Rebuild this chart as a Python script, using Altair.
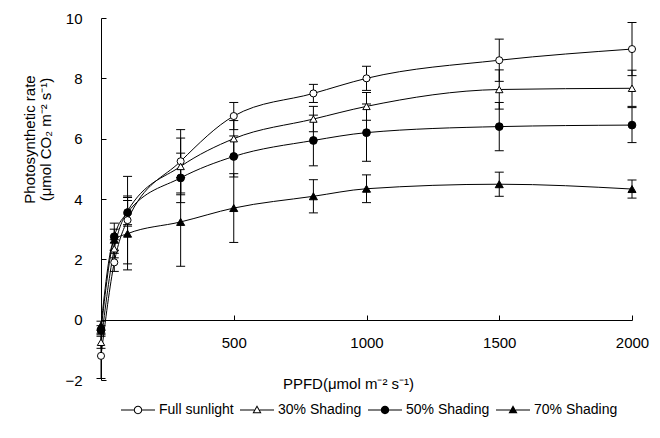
import altair as alt
import pandas as pd

# ---- data ----
ppfd = [0, 50, 100, 300, 500, 800, 1000, 1500, 2000]
series_names = ["Full sunlight", "30% Shading", "50% Shading", "70% Shading"]

full_sun = [-1.20, 1.90, 3.30, 5.25, 6.75, 7.50, 8.00, 8.60, 8.97]
full_sun_err = [0.75, 0.30, 1.45, 1.05, 0.45, 0.30, 0.40, 0.70, 0.88]

shade30 = [-0.75, 2.35, 3.60, 5.08, 6.00, 6.65, 7.07, 7.63, 7.67]
shade30_err = [0.20, 0.30, 0.50, 0.94, 0.60, 0.42, 0.46, 0.65, 0.60]

shade50 = [-0.35, 2.75, 3.55, 4.70, 5.41, 5.94, 6.20, 6.40, 6.45]
shade50_err = [0.15, 0.45, 0.40, 0.82, 0.68, 0.84, 0.95, 0.80, 0.58]

shade70 = [-0.20, 2.65, 2.85, 3.24, 3.70, 4.09, 4.34, 4.49, 4.33]
shade70_err = [0.15, 0.35, 1.20, 1.47, 1.14, 0.55, 0.46, 0.40, 0.30]

x_ticks = [500, 1000, 1500, 2000]
y_ticks = [-2, 0, 2, 4, 6, 8, 10]

rows = []
for name, vals, errs in zip(series_names,
                            [full_sun, shade30, shade50, shade70],
                            [full_sun_err, shade30_err, shade50_err, shade70_err]):
    for p, v, e in zip(ppfd, vals, errs):
        rows.append({"ppfd": p, "series": name, "val": v, "lo": v - e, "hi": v + e})
df = pd.DataFrame(rows)

FONT = "Liberation Sans"

# ---- legend symbols: line + marker as custom paths (unit = 17 px) ----
U = 17.0


def f(v):
    return f"{v / U:.4f}"


def rect(x0, x1, h=0.5):
    return f"M{f(x0)},{f(-h)}H{f(x1)}V{f(h)}H{f(x0)}Z"


def circ(r, sweep=1):
    return (f"M{f(-r)},0A{f(r)} {f(r)} 0 1 {sweep} {f(r)},0"
            f"A{f(r)} {f(r)} 0 1 {sweep} {f(-r)},0Z")


def tri(pts):
    (ax, ay), (bx, by), (cx, cy) = pts
    return f"M{f(ax)},{f(ay)}L{f(bx)},{f(by)}L{f(cx)},{f(cy)}Z"


open_circle = rect(-17, -4) + rect(4, 17) + circ(4.2, 1) + circ(3.2, 0)
filled_circle = rect(-17, -4) + rect(4, 17) + circ(4.2, 1)
outer_tri = [(0, -4.8), (4.5, 3.2), (-4.5, 3.2)]
inner_tri = [(0, -2.76), (-2.79, 2.2), (2.79, 2.2)]
open_triangle = rect(-17, -2.7) + rect(2.7, 17) + tri(outer_tri) + tri(inner_tri)
filled_triangle = rect(-17, -2.7) + rect(2.7, 17) + tri(outer_tri)
legend_paths = [open_circle, open_triangle, filled_circle, filled_triangle]

xscale = alt.Scale(domain=[0, 2000], nice=False, zero=False)
yscale = alt.Scale(domain=[-2, 10], nice=False, zero=False)

x_label_axis = alt.Axis(
    orient="bottom", offset=-60, values=x_ticks, ticks=False, tickSize=0, domain=False,
    grid=False, labelPadding=15, labelFont=FONT, labelFontSize=15, labelColor="black",
    labelFlush=False, labelOverlap=False, format="d",
    title="PPFD(μmol m⁻² s⁻¹)", titleFont=FONT, titleFontSize=15, titleFontWeight="normal",
    titleColor="black", titleX=247, titleY=63, titleAlign="center", titleBaseline="middle")

y_label_axis = alt.Axis(
    orient="left", values=y_ticks, ticks=False, tickSize=0, domain=False, grid=False,
    labelPadding=19, labelFont=FONT, labelFontSize=15, labelColor="black",
    labelFlush=False, labelOverlap=False, format="d",
    title=["Photosynthetic rate", "(μmol CO₂ m⁻² s⁻¹)"], titleFont=FONT, titleFontSize=15,
    titleFontWeight="normal", titleColor="black", titleAngle=270, titleX=-72, titleY=121,
    titleAlign="center", titleBaseline="middle", titleLineHeight=16)

x_tick_axis = alt.Axis(
    orient="top", offset=-302, values=x_ticks, tickSize=5, tickColor="black", tickWidth=1,
    labels=False, domain=True, domainColor="black", domainWidth=1, grid=False, title=None)

y_tick_axis = alt.Axis(
    orient="right", offset=-531, values=y_ticks, tickSize=5, tickColor="black", tickWidth=1,
    labels=False, domain=True, domainColor="black", domainWidth=1, grid=False, title=None)

base = alt.Chart(df)

lines = base.mark_line(interpolate="monotone", color="black", strokeWidth=1).encode(
    x=alt.X("ppfd:Q", scale=xscale, axis=x_label_axis),
    y=alt.Y("val:Q", scale=yscale, axis=y_label_axis),
    detail="series:N",
)

rules = base.mark_rule(color="black", strokeWidth=1).encode(
    x=alt.X("ppfd:Q", scale=xscale, axis=x_tick_axis),
    y=alt.Y("lo:Q", scale=yscale, axis=y_tick_axis),
    y2="hi:Q",
)

caps_lo = base.mark_tick(orient="horizontal", size=9, thickness=1, color="black", opacity=1).encode(
    x=alt.X("ppfd:Q", axis=None), y=alt.Y("lo:Q", axis=None))
caps_hi = base.mark_tick(orient="horizontal", size=9, thickness=1, color="black", opacity=1).encode(
    x=alt.X("ppfd:Q", axis=None), y=alt.Y("hi:Q", axis=None))

points = base.mark_point(filled=True, stroke="black", strokeWidth=1, opacity=1).encode(
    x=alt.X("ppfd:Q", axis=None),
    y=alt.Y("val:Q", axis=None),
    shape=alt.Shape("series:N", scale=alt.Scale(domain=series_names,
                    range=["circle", "triangle-up", "circle", "triangle-up"]), legend=None),
    fill=alt.Fill("series:N", scale=alt.Scale(domain=series_names,
                  range=["white", "white", "black", "black"]), legend=None),
    size=alt.Size("series:N", scale=alt.Scale(domain=series_names,
                  range=[50, 65, 50, 65]), legend=None),
)

legend_layer = base.transform_filter("datum.val > 1000").mark_point(
    filled=True, color="black", opacity=1, strokeWidth=0).encode(
    x=alt.X("ppfd:Q", axis=None),
    y=alt.Y("val:Q", axis=None),
    shape=alt.Shape("series:N", scale=alt.Scale(domain=series_names, range=legend_paths),
                    legend=alt.Legend(orient="none", legendX=20, legendY=375,
                                      direction="horizontal", title=None,
                                      symbolSize=1156, symbolStrokeWidth=0,
                                      symbolFillColor="black", symbolOpacity=1,
                                      labelFont=FONT, labelFontSize=14, labelColor="black",
                                      labelOffset=4, columnPadding=6)),
)

chart = alt.layer(lines, rules, caps_lo, caps_hi, points, legend_layer).resolve_scale(
    shape="independent"
).resolve_axis(
    x="independent", y="independent"
).properties(
    width=531, height=362,
    padding={"left": 93, "top": 10, "right": 20, "bottom": 50},
    autosize=alt.AutoSizeParams(type="none"),
    background="white",
).configure_view(stroke=None)

chart.save("out.html", embed_options={"renderer": "svg", "actions": False})
